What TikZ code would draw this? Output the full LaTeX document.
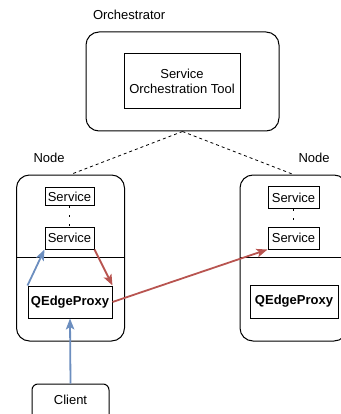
\documentclass[tikz,border=0pt]{standalone}
\usepackage{fontspec}
\setmainfont{Liberation Sans}
\usetikzlibrary{arrows.meta}
\definecolor{arrowblue}{HTML}{6C8EBF}
\definecolor{arrowred}{HTML}{B85450}
\begin{document}
\begin{tikzpicture}[x=1pt,y=-1pt,
  txt/.style={font=\fontsize{13}{15.5}\selectfont},
  frame/.style={draw,line width=1pt,rounded corners=13pt,inner sep=0pt},
  box/.style={draw,line width=1pt,inner sep=0pt,txt,align=center},
  link/.style={->,>={Stealth[length=11pt,width=8.5pt,inset=2.5pt]},line width=1.8pt}]

\useasboundingbox (0,0) rectangle (340,414);

% orchestrator
\node[frame,minimum width=193,minimum height=99] (orch) at (182.5,81.5) {};
\node[txt,anchor=west] (orchlabel) at (89.5,15) {Orchestrator};
\node[box,minimum width=116,minimum height=55] (sot) at (182,81.5) {Service\\Orchestration Tool};

% nodes
\node[frame,minimum width=108,minimum height=166] (nodeL) at (70.5,258) {};
\node[frame,minimum width=107,minimum height=166] (nodeR) at (293.5,258) {};
\node[txt,anchor=west] (labelL) at (30,158) {Node};
\node[txt,anchor=west] (labelR) at (295,158) {Node};
\draw[line width=1pt] (nodeL.west |- 0,257) -- (nodeL.east |- 0,257);
\draw[line width=1pt] (nodeR.west |- 0,257) -- (nodeR.east |- 0,257);

\draw[dashed,line width=0.8pt] (orch.south) -- (nodeL.north);
\draw[dashed,line width=0.8pt] (orch.south) -- (nodeR.north);

\node[box,minimum width=49,minimum height=18] (svcLa) at (69.5,196.5) {Service};
\node[box,minimum width=49,minimum height=22] (svcLb) at (69.5,238) {Service};
\node[box,minimum width=51,minimum height=22] (svcRa) at (293.5,197.5) {Service};
\node[box,minimum width=51,minimum height=22] (svcRb) at (293.5,238) {Service};
\draw[line width=1.6pt,dash pattern=on 2pt off 7pt] (svcLa.south) -- (svcLb.north);
\draw[line width=1.6pt,dash pattern=on 2pt off 7pt] (svcRa.south) -- (svcRb.north);

\node[box,font=\fontsize{13}{15.5}\selectfont\bfseries,minimum width=84,minimum height=32] (proxyL) at (70,302) {QEdgeProxy};
\node[box,font=\fontsize{13}{15.5}\selectfont\bfseries,minimum width=88,minimum height=33] (proxyR) at (294,301.5) {QEdgeProxy};

\node[box,rounded corners=6pt,minimum width=77,minimum height=40] (client) at (70.5,404) {};
\node[txt] (clientlabel) at (70.5,400) {Client};

% requests
\draw[link,arrowblue] (client.north) -- (proxyL.south);
\draw[link,arrowblue] (proxyL.north west) -- (svcLb.south west);
\draw[link,arrowred] (svcLb.south east) -- (proxyL.north east);
\draw[link,arrowred] (proxyL.east) -- (svcRb.south west);
\end{tikzpicture}
\end{document}
